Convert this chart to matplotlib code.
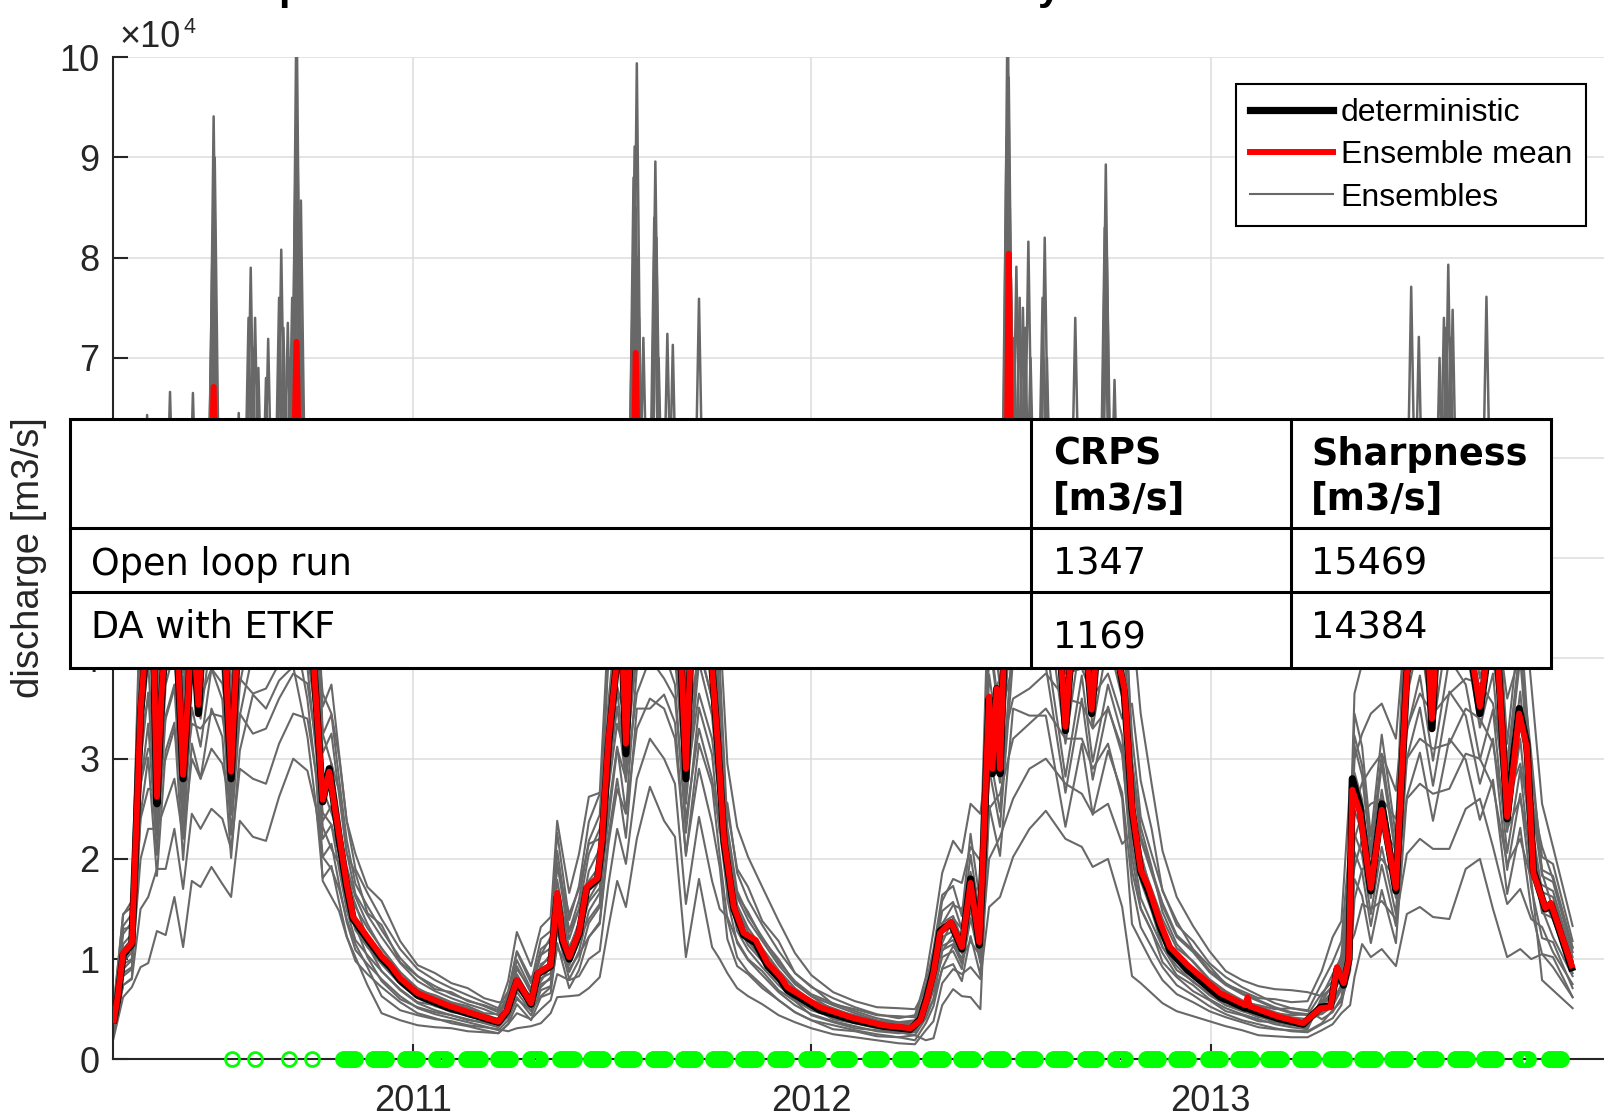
import numpy as np
import pandas as pd
import matplotlib
matplotlib.use('Agg')
import matplotlib.pyplot as plt
from matplotlib.lines import Line2D
from matplotlib.patches import Rectangle
from matplotlib.ticker import FuncFormatter

plt.rcParams['font.family'] = ['Liberation Sans', 'DejaVu Sans']

START = pd.Timestamp('2010-04-01')
END = pd.Timestamp('2014-01-01')
SCALE = 1e4  # all discharge values below are in 10^4 m3/s

# ---- deterministic run and ensemble mean (days since 2010-04-01) ----
day = [0, 4, 9, 17, 21, 25, 31, 36, 40, 44,
       49, 56, 64, 69, 72, 78, 83, 88, 92, 95,
       100, 108, 113, 120, 128, 140, 150, 160, 165, 168,
       171, 178, 184, 192, 198, 207, 214, 220, 233, 246,
       254, 263, 279, 306, 337, 353, 361, 370, 378, 383,
       389, 401, 404, 407, 412, 418, 427, 434, 444, 448,
       454, 461, 466, 470, 474, 476, 479, 482, 490, 500,
       510, 519, 525, 530, 540, 549, 554, 560, 569, 578,
       589, 600, 612, 618, 648, 679, 706, 731, 740, 746,
       752, 758, 768, 778, 786, 794, 798, 803, 806, 810,
       813, 818, 821, 824, 835, 850, 865, 873, 882, 890,
       897, 905, 915, 923, 927, 934, 942, 949, 960, 969,
       985, 1015, 1038, 1040, 1042, 1067, 1091, 1107, 1116, 1122,
       1128, 1133, 1136, 1143, 1153, 1163, 1176, 1186, 1195, 1203,
       1209, 1215, 1225, 1240, 1253, 1262, 1270, 1278, 1283, 1289,
       1296, 1302, 1313, 1318, 1338]

ens_mean = [0.36, 0.62, 1.06, 1.16, 2.30, 3.49, 4.30, 4.60, 2.62, 3.60,
            4.40, 4.80, 2.84, 3.70, 4.50, 3.54, 4.50, 5.00, 6.71, 5.20,
            4.60, 2.87, 4.00, 4.80, 5.20, 5.00, 5.40, 5.30, 5.60, 7.16,
            5.40, 4.60, 3.90, 2.59, 2.87, 2.24, 1.75, 1.42, 1.22, 1.03,
            0.94, 0.81, 0.66, 0.54, 0.43, 0.375, 0.49, 0.79, 0.65, 0.56,
            0.86, 0.94, 1.30, 1.66, 1.20, 1.02, 1.27, 1.72, 1.81, 2.19,
            3.19, 3.90, 4.30, 3.15, 4.10, 5.00, 7.05, 5.20, 5.00, 5.30,
            5.00, 4.40, 2.90, 4.20, 4.60, 3.90, 3.19, 2.19, 1.52, 1.26,
            1.19, 0.96, 0.82, 0.72, 0.52, 0.41, 0.34, 0.31, 0.39, 0.60,
            0.86, 1.26, 1.37, 1.12, 1.76, 1.17, 2.19, 3.62, 2.90, 3.70,
            2.90, 4.50, 8.04, 5.20, 4.80, 5.00, 4.60, 3.32, 4.60, 4.40,
            3.49, 4.50, 4.40, 3.90, 3.70, 2.52, 1.89, 1.72, 1.36, 1.12,
            0.94, 0.66, 0.54, 0.62, 0.53, 0.43, 0.36, 0.51, 0.52, 0.92,
            0.76, 1.00, 2.69, 2.46, 1.71, 2.49, 1.71, 3.85, 4.40, 4.60,
            3.40, 4.50, 4.80, 4.40, 3.52, 4.20, 3.90, 2.42, 2.85, 3.45,
            3.12, 1.86, 1.51, 1.56, 0.91]

deterministic = [0.36, 0.60, 1.04, 1.15, 2.28, 3.45, 4.25, 4.55, 2.55, 3.55,
                 4.40, 4.75, 2.80, 3.65, 4.50, 3.45, 4.45, 5.00, 5.00, 5.10,
                 4.55, 2.80, 3.95, 4.80, 5.20, 5.00, 5.40, 5.30, 5.50, 5.50,
                 5.30, 4.60, 3.90, 2.57, 2.90, 2.20, 1.72, 1.40, 1.20, 1.01,
                 0.92, 0.79, 0.64, 0.52, 0.42, 0.37, 0.48, 0.78, 0.64, 0.55,
                 0.85, 0.93, 1.28, 1.62, 1.18, 1.00, 1.25, 1.70, 1.80, 2.15,
                 3.15, 3.90, 4.30, 3.05, 4.10, 5.00, 5.20, 5.10, 5.00, 5.30,
                 5.00, 4.40, 2.80, 4.20, 4.60, 3.90, 3.17, 2.17, 1.50, 1.24,
                 1.16, 0.93, 0.79, 0.69, 0.49, 0.39, 0.33, 0.30, 0.40, 0.62,
                 0.88, 1.28, 1.36, 1.10, 1.80, 1.14, 2.15, 3.60, 2.85, 3.70,
                 2.85, 4.50, 5.30, 5.10, 4.80, 5.00, 4.60, 3.28, 4.60, 4.40,
                 3.45, 4.50, 4.40, 3.90, 3.65, 2.50, 1.87, 1.68, 1.32, 1.08,
                 0.89, 0.62, 0.51, 0.52, 0.50, 0.41, 0.35, 0.52, 0.53, 0.90,
                 0.74, 1.00, 2.80, 2.52, 1.68, 2.55, 1.68, 3.85, 4.40, 4.60,
                 3.30, 4.50, 4.80, 4.40, 3.45, 4.20, 3.90, 2.40, 2.95, 3.50,
                 3.15, 1.88, 1.50, 1.55, 0.88]

# ---- ensemble members ----
ens_day = [0, 9, 17, 25, 32, 40, 48, 56, 64, 72, 80, 90, 100, 108, 116, 128, 140, 152, 165, 178, 186,
           192, 200, 207, 214, 222, 233, 246, 263, 279, 295, 310, 325, 340, 353,
           362, 370, 383, 392, 401, 407, 418, 427, 436, 446,
           454, 462, 470, 480, 492, 505, 515, 525, 537, 549, 556,
           563, 572, 582, 595, 610, 625, 640, 660, 680, 700, 720, 735,
           745, 752, 760, 770, 778, 786, 795,
           803, 813, 825, 840, 855, 873, 888, 898, 912, 925,
           934, 942, 952, 962, 975, 990, 1005, 1020, 1035, 1050, 1065, 1080, 1095,
           1108, 1118, 1126, 1134,
           1138, 1145, 1153, 1163, 1176, 1186, 1198, 1210, 1225, 1240, 1253, 1265, 1278, 1290, 1300,
           1310, 1320, 1338]

member_1 = [.48, 1.45, 1.52, 4.6, 5.5, 4.9, 5.7, 5.9, 5.1, 5.9, 5.6, 6.0, 5.9, 4.8, 5.8, 6.0, 5.9, 6.1, 6.1, 5.8, 4.9,
            3.25, 2.95, 2.68, 2.05, 1.86, 1.46, 1.34, .97, .83, .70, .67, .58, .54, .49,
            .78, 1.27, .93, 1.32, 1.42, 2.38, 1.66, 2.05, 2.62, 2.66,
            3.02, 3.72, 3.38, 4.5, 4.6, 4.65, 4.3, 3.15, 4.1, 3.6, 2.93,
            2.50, 1.90, 1.72, 1.38, 1.18, .86, .73, .55, .50, .44, .43, .42,
            .82, 1.28, 1.86, 2.18, 2.06, 2.55, 2.45,
            3.2, 3.4, 3.95, 4.05, 4.2, 3.85, 3.9, 3.62, 3.85, 3.4,
            3.55, 2.78, 2.30, 1.68, 1.38, 1.10, .93, .75, .68, .61, .60, .57, .58,
            .88, 1.22, 1.38, 2.75,
            2.52, 2.76, 2.9, 3.05, 2.68, 3.85, 4.15, 3.9, 4.1, 4.3, 4.15, 4.0, 3.0, 3.4, 2.6,
            2.12, 1.80, 1.12]
member_2 = [.42, 1.30, 1.32, 3.9, 4.4, 4.1, 4.7, 4.85, 4.2, 5.0, 4.7, 5.1, 4.9, 4.2, 5.0, 5.2, 5.1, 5.3, 5.45, 5.2, 4.3,
            3.65, 3.45, 3.02, 2.38, 2.05, 1.72, 1.58, 1.18, .94, .86, .76, .71, .61, .57,
            .57, .90, .70, .92, 1.05, 1.60, 1.27, 1.50, 1.78, 1.93,
            4.15, 5.1, 4.7, 6.0, 6.05, 6.1, 5.9, 4.55, 5.7, 5.4, 4.35,
            2.95, 2.32, 2.02, 1.72, 1.38, 1.06, .84, .67, .58, .52, .51, .50,
            .70, 1.05, 1.58, 1.80, 1.76, 2.12, 1.98,
            4.9, 5.4, 6.0, 6.05, 6.0, 5.7, 5.9, 5.45, 5.9, 5.5,
            2.98, 2.32, 1.92, 1.47, 1.15, .97, .79, .67, .57, .54, .50, .51, .48,
            .76, .97, 1.18, 2.2,
            3.65, 3.95, 4.15, 4.35, 3.95, 5.4, 5.9, 5.7, 6.0, 5.9, 5.7, 5.7, 4.45, 4.95, 3.75,
            2.55, 2.12, 1.33]
member_3 = [.37, 1.10, 1.20, 3.2, 3.6, 3.5, 3.85, 4.2, 3.45, 4.3, 4.0, 4.4, 4.2, 3.6, 4.5, 4.4, 4.5, 4.7, 4.8, 4.75, 3.9,
            2.70, 2.46, 2.24, 1.74, 1.55, 1.20, 1.00, .76, .64, .56, .54, .47, .44, .40,
            .66, 1.08, .80, 1.04, 1.22, 1.92, 1.45, 1.70, 2.15, 2.20,
            3.5, 4.3, 4.0, 5.1, 5.3, 5.2, 5.1, 3.75, 4.75, 4.45, 3.5,
            2.12, 1.64, 1.47, 1.20, 1.00, .76, .63, .49, .44, .38, .37, .35,
            .48, .74, 1.16, 1.41, 1.30, 1.56, 1.40,
            4.1, 4.5, 5.1, 5.1, 5.25, 4.85, 5.0, 4.65, 4.95, 4.55,
            4.4, 3.45, 2.75, 2.08, 1.62, 1.33, 1.08, .88, .79, .73, .70, .69, .67,
            .63, .85, 1.02, 1.82,
            3.0, 3.25, 3.45, 3.55, 3.2, 4.5, 4.85, 4.75, 4.9, 5.0, 4.8, 4.7, 3.6, 4.05, 3.05,
            1.86, 1.50, .98]
member_4 = [.34, 1.00, 1.12, 2.75, 3.1, 3.0, 3.4, 3.7, 3.05, 3.8, 3.6, 3.9, 3.75, 3.15, 4.1, 4.0, 4.05, 4.3, 4.45, 4.4, 3.65,
            2.85, 2.72, 2.35, 1.92, 1.62, 1.35, 1.10, .87, .69, .64, .57, .53, .46, .45,
            .49, .70, .55, .72, .82, 1.30, 1.02, 1.20, 1.40, 1.55,
            2.7, 3.35, 3.0, 4.05, 4.3, 4.15, 4.0, 2.72, 3.65, 3.2, 2.58,
            1.84, 1.50, 1.27, 1.10, .88, .70, .55, .46, .38, .36, .31, .33,
            .58, .82, 1.35, 1.54, 1.50, 1.74, 1.68,
            3.55, 3.8, 4.4, 4.45, 4.6, 4.25, 4.4, 3.95, 4.3, 3.85,
            2.52, 2.06, 1.65, 1.30, 1.02, .87, .71, .61, .52, .47, .46, .44, .45,
            .51, .68, .80, 1.42,
            2.2, 2.45, 2.55, 2.6, 2.4, 3.3, 3.65, 3.45, 3.65, 3.8, 3.75, 3.55, 2.6, 2.95, 2.3,
            1.63, 1.39, .89]
member_5 = [.31, .95, 1.0, 2.4, 2.7, 2.68, 3.0, 3.3, 2.62, 3.35, 3.3, 3.45, 3.42, 2.85, 3.8, 3.65, 3.7, 3.95, 4.2, 4.05, 3.4,
            2.32, 2.10, 1.95, 1.52, 1.33, 1.02, .78, .60, .52, .47, .44, .39, .37, .34,
            .53, .76, .63, .78, .93, 1.48, 1.12, 1.33, 1.57, 1.71,
            2.38, 3.1, 2.8, 3.65, 4.0, 3.8, 3.6, 2.4, 3.3, 2.8, 2.3,
            1.65, 1.35, 1.14, .98, .81, .62, .52, .40, .36, .33, .28, .29,
            .44, .60, 1.08, 1.24, 1.20, 1.38, 1.22,
            2.85, 3.05, 3.6, 3.7, 3.85, 3.6, 3.55, 3.3, 3.5, 3.1,
            1.88, 1.50, 1.28, .97, .82, .68, .59, .48, .44, .38, .37, .35, .34,
            .58, .74, .92, 1.57,
            1.92, 2.2, 2.25, 2.3, 2.1, 3.0, 3.2, 3.1, 3.15, 3.5, 3.4, 3.15, 2.3, 2.6, 2.05,
            1.50, 1.22, .83]
member_6 = [.28, .86, .92, 2.0, 2.3, 2.3, 2.55, 2.8, 2.2, 3.0, 2.8, 3.1, 2.95, 2.5, 3.45, 3.25, 3.3, 3.6, 3.85, 3.75, 3.15,
            2.46, 2.34, 2.05, 1.68, 1.40, 1.14, .88, .70, .57, .54, .47, .45, .40, .37,
            .42, .60, .49, .63, .72, 1.12, .90, 1.05, 1.22, 1.35,
            2.15, 2.7, 2.45, 3.3, 3.6, 3.5, 3.2, 2.05, 2.9, 2.35, 1.92,
            1.20, .93, .85, .71, .59, .47, .39, .30, .28, .23, .22, .19,
            .36, .53, .91, 1.13, 1.01, 1.18, 1.03,
            2.0, 2.22, 2.6, 2.9, 3.0, 2.75, 2.65, 2.45, 2.55, 2.15,
            2.25, 1.78, 1.48, 1.12, .93, .77, .66, .54, .49, .42, .41, .40, .38,
            .46, .58, .73, 1.15,
            1.25, 1.55, 1.5, 1.58, 1.4, 2.05, 2.2, 2.1, 2.1, 2.5, 2.6, 2.12, 1.55, 1.7, 1.4,
            1.32, 1.07, .75]
member_7 = [.25, .74, .80, 1.5, 1.62, 1.9, 1.9, 2.3, 1.7, 2.45, 2.3, 2.5, 2.4, 2.1, 2.9, 2.8, 2.75, 3.15, 3.45, 3.4, 2.85,
            1.78, 1.62, 1.48, 1.22, 1.02, .74, .46, .39, .34, .32, .31, .28, .27, .26,
            .35, .46, .40, .50, .59, .85, .79, .83, 1.0, 1.08,
            1.75, 2.3, 1.95, 2.8, 3.2, 3.0, 2.75, 1.55, 2.42, 1.78, 1.5,
            1.42, 1.18, 1.00, .88, .69, .58, .44, .37, .31, .29, .27, .24,
            .19, .21, .54, .70, .63, .62, .50,
            2.5, 2.65, 3.2, 3.35, 3.5, 3.2, 3.2, 2.9, 3.15, 2.6,
            1.35, 1.18, .97, .79, .65, .57, .48, .42, .37, .32, .30, .29, .28,
            .36, .49, .58, .88,
            1.6, 1.9, 1.92, 2.0, 1.8, 2.6, 2.75, 2.65, 2.7, 3.05, 3.0, 2.72, 1.95, 2.2, 1.8,
            .79, .69, .51]
member_8 = [.20, .62, .72, .92, .96, 1.28, 1.24, 1.62, 1.12, 1.78, 1.72, 1.92, 1.75, 1.62, 2.38, 2.22, 2.18, 2.62, 3.0, 2.88, 2.5,
            2.02, 1.90, 1.70, 1.40, 1.15, .92, .63, .49, .44, .40, .38, .34, .32, .30,
            .28, .31, .33, .36, .46, .62, .63, .64, .71, .82,
            1.32, 1.78, 1.52, 2.2, 2.72, 2.38, 2.22, 1.02, 1.8, 1.12, 1.0,
            .86, .71, .63, .55, .44, .37, .31, .25, .22, .19, .16, .15,
            .29, .38, .76, .90, .85, .92, .80,
            1.52, 1.62, 2.02, 2.3, 2.48, 2.2, 2.12, 1.92, 2.0, 1.52,
            .83, .76, .66, .56, .48, .43, .38, .33, .29, .24, .23, .22, .22,
            .29, .35, .46, .54,
            .82, 1.15, 1.02, 1.1, .93, 1.45, 1.52, 1.42, 1.4, 1.9, 2.0, 1.5, 1.02, 1.1, 1.0,
            1.05, .92, .62]
member_9 = [.39, 1.15, 1.25, 3.75, 4.6, 2.85, 4.7, 5.1, 3.05, 4.8, 4.3, 5.3, 4.9, 3.1, 4.7, 5.5, 5.3, 5.7, 5.9, 4.9, 3.9,
            2.78, 2.95, 2.42, 1.88, 1.52, 1.31, 1.11, .87, .71, .62, .56, .51, .45, .40,
            .54, .85, .60, .95, 1.01, 1.79, 1.10, 1.37, 1.88, 2.10,
            3.45, 4.3, 3.4, 5.4, 5.4, 5.6, 5.2, 3.13, 4.85, 4.2, 3.13,
            1.90, 1.38, 1.18, 1.00, .80, .64, .53, .46, .39, .33, .30, .32,
            .55, .82, 1.22, 1.28, 1.06, 1.67, 1.14,
            3.44, 2.76, 4.75, 4.65, 4.65, 3.15, 4.28, 3.32, 4.18, 3.61,
            2.39, 1.80, 1.52, 1.25, 1.00, .87, .71, .61, .53, .48, .42, .38, .36,
            .55, .65, .86, 1.62,
            2.86, 2.59, 1.85, 2.69, 1.85, 4.16, 4.86, 3.78, 5.08, 4.75, 3.80, 4.43, 2.61, 3.67, 2.38,
            1.67, 1.62, .98]
member_10 = [.33, .97, 1.07, 3.21, 3.96, 2.41, 4.05, 4.42, 2.61, 4.14, 3.68, 4.6, 4.23, 2.64, 4.05, 4.78, 4.6, 4.97, 5.15, 4.23, 3.31,
             2.38, 2.53, 2.06, 1.61, 1.29, 1.12, .95, .75, .61, .53, .48, .43, .39, .345,
             .46, .73, .52, .81, .86, 1.53, .94, 1.17, 1.60, 1.79,
             2.93, 3.68, 2.90, 4.6, 4.6, 4.78, 4.42, 2.67, 4.14, 3.59, 2.67,
             2.12, 1.54, 1.31, 1.11, .89, .71, .59, .51, .43, .37, .34, .36,
             .61, .91, 1.36, 1.43, 1.19, 1.87, 1.27,
             3.84, 3.07, 5.3, 5.19, 5.19, 3.52, 4.77, 3.70, 4.66, 4.03,
             2.67, 2.0, 1.70, 1.40, 1.11, .98, .80, .68, .59, .53, .47, .42, .40,
             .48, .56, .75, 1.41,
             2.49, 2.26, 1.61, 2.34, 1.61, 3.62, 4.23, 3.29, 4.42, 4.14, 3.31, 3.85, 2.27, 3.20, 2.07,
             1.46, 1.41, .86]
member_11 = [.42, 1.25, 1.37, 4.1, 5.1, 3.09, 5.2, 5.66, 3.35, 5.3, 4.72, 5.9, 5.43, 3.39, 5.2, 6.1, 5.9, 6.1, 6.2, 5.43, 4.25,
             3.06, 3.25, 2.64, 2.07, 1.65, 1.44, 1.22, .96, .78, .68, .61, .55, .50, .44,
             .59, .93, .66, 1.04, 1.11, 1.96, 1.20, 1.50, 2.05, 2.30,
             2.81, 3.52, 2.77, 4.4, 4.4, 4.58, 4.22, 2.55, 3.96, 3.43, 2.55,
             1.76, 1.28, 1.09, .92, .74, .59, .49, .42, .36, .31, .28, .30,
             .51, .76, 1.13, 1.19, .99, 1.55, 1.06,
             4.27, 3.42, 5.9, 5.78, 5.78, 3.92, 5.31, 4.12, 5.19, 4.48,
             2.97, 2.23, 1.89, 1.56, 1.24, 1.09, .89, .76, .66, .59, .52, .47, .45,
             .45, .53, .70, 1.32,
             3.13, 2.83, 2.02, 2.94, 2.02, 4.54, 5.3, 4.13, 5.5, 5.2, 4.15, 4.84, 2.86, 4.0, 2.6,
             1.83, 1.77, 1.07]
member_12 = [.31, .90, .99, 2.97, 3.66, 2.23, 3.74, 4.08, 2.41, 3.83, 3.4, 4.25, 3.91, 2.44, 3.74, 4.42, 4.25, 4.59, 4.76, 3.91, 3.06,
             2.2, 2.34, 1.90, 1.49, 1.19, 1.04, .88, .69, .56, .49, .44, .40, .36, .32,
             .43, .67, .48, .75, .80, 1.41, .87, 1.08, 1.48, 1.66,
             3.57, 4.48, 3.53, 5.6, 5.6, 5.8, 5.4, 3.25, 5.04, 4.37, 3.25,
             2.24, 1.62, 1.39, 1.18, .94, .75, .63, .54, .46, .39, .36, .38,
             .49, .73, 1.09, 1.15, .95, 1.50, 1.02,
             3.08, 2.47, 4.25, 4.17, 4.17, 2.82, 3.83, 2.97, 3.74, 3.23,
             2.14, 1.61, 1.36, 1.12, .89, .78, .64, .54, .48, .43, .37, .34, .32,
             .57, .67, .90, 1.68,
             2.25, 2.04, 1.45, 2.12, 1.45, 3.27, 3.83, 2.98, 4.0, 3.74, 2.99, 3.49, 2.06, 2.89, 1.87,
             1.74, 1.68, 1.02]
member_13 = [.28, .83, .90, 2.72, 3.35, 2.04, 3.43, 3.74, 2.22, 3.51, 3.12, 3.9, 3.59, 2.24, 3.43, 4.06, 3.9, 4.21, 4.37, 3.59, 2.81,
             2.02, 2.15, 1.75, 1.37, 1.09, .95, .80, .63, .51, .45, .41, .37, .33, .29,
             .39, .62, .44, .69, .73, 1.29, .80, .99, 1.36, 1.52,
             2.49, 3.12, 2.46, 3.9, 3.9, 4.06, 3.74, 2.26, 3.51, 3.04, 2.26,
             2.56, 1.86, 1.59, 1.34, 1.08, .86, .72, .61, .52, .45, .41, .44,
             .74, 1.10, 1.64, 1.73, 1.43, 2.25, 1.54,
             4.63, 3.71, 6.1, 6.1, 6.1, 4.25, 5.76, 4.47, 5.63, 4.86,
             3.23, 2.42, 2.05, 1.69, 1.34, 1.18, .96, .82, .72, .64, .56, .51, .49,
             .40, .47, .62, 1.17,
             2.07, 1.87, 1.33, 1.94, 1.33, 3.0, 3.51, 2.73, 3.67, 3.43, 2.75, 3.2, 1.89, 2.65, 1.72,
             1.21, 1.17, .71]
member_14 = [.45, 1.33, 1.45, 4.36, 5.38, 3.28, 5.5, 6.0, 3.55, 5.63, 5.0, 6.1, 5.75, 3.59, 5.5, 6.1, 6.1, 6.1, 6.2, 5.75, 4.5,
             3.24, 3.44, 2.8, 2.19, 1.75, 1.53, 1.29, 1.01, .83, .73, .65, .59, .53, .47,
             .63, .99, .70, 1.1, 1.18, 2.08, 1.28, 1.59, 2.18, 2.44,
             3.99, 5.0, 3.94, 6.1, 6.1, 6.2, 6.0, 3.63, 5.63, 4.88, 3.63,
             1.6, 1.16, .99, .84, .67, .54, .45, .38, .33, .28, .26, .27,
             .46, .69, 1.02, 1.08, .90, 1.41, .96,
             2.9, 2.32, 4.0, 3.92, 3.92, 2.66, 3.6, 2.79, 3.52, 3.04,
             2.02, 1.51, 1.28, 1.06, .84, .74, .60, .51, .45, .40, .35, .32, .30,
             .62, .73, .98, 1.83,
             3.23, 2.93, 2.09, 3.04, 2.09, 4.7, 5.49, 4.27, 5.73, 5.37, 4.29, 5.0, 2.95, 4.15, 2.68,
             1.89, 1.83, 1.11]
member_15 = [.25, .74, .81, 2.44, 3.01, 1.83, 3.08, 3.36, 1.99, 3.15, 2.8, 3.5, 3.22, 2.01, 3.08, 3.64, 3.5, 3.78, 3.92, 3.22, 2.52,
             1.81, 1.93, 1.57, 1.23, .98, .85, .72, .57, .46, .41, .36, .33, .29, .26,
             .35, .55, .39, .62, .66, 1.16, .71, .89, 1.22, 1.37,
             2.23, 2.8, 2.21, 3.5, 3.5, 3.64, 3.36, 2.03, 3.15, 2.73, 2.03,
             1.4, 1.02, .87, .74, .59, .47, .39, .34, .29, .25, .22, .24,
             .41, .60, .90, .95, .78, 1.23, .84,
             2.53, 2.03, 3.5, 3.43, 3.43, 2.32, 3.15, 2.44, 3.08, 2.66,
             1.76, 1.32, 1.12, .92, .74, .64, .53, .45, .39, .35, .31, .28, .27,
             .35, .41, .54, 1.02,
             1.8, 1.63, 1.16, 1.69, 1.16, 2.62, 3.06, 2.38, 3.2, 2.99, 2.39, 2.79, 1.65, 2.31, 1.5,
             1.05, 1.02, .62]
member_16 = [.49, 1.44, 1.58, 4.75, 5.85, 3.56, 5.98, 6.1, 3.86, 6.1, 5.44, 6.1, 6.1, 3.9, 5.98, 6.1, 6.1, 6.1, 6.2, 6.1, 4.9,
             3.52, 3.74, 3.05, 2.38, 1.9, 1.66, 1.4, 1.1, .90, .79, .71, .64, .57, .51,
             .68, 1.07, .76, 1.2, 1.28, 2.26, 1.39, 1.73, 2.37, 2.65,
             4.34, 5.44, 4.28, 6.1, 6.1, 6.2, 6.1, 3.94, 6.1, 5.3, 3.94,
             2.32, 1.68, 1.44, 1.22, .97, .78, .65, .56, .48, .41, .37, .39,
             .67, 1.0, 1.48, 1.57, 1.3, 2.04, 1.39,
             4.2, 3.36, 5.8, 5.68, 5.68, 3.85, 5.22, 4.05, 5.1, 4.41,
             2.92, 2.19, 1.86, 1.53, 1.22, 1.07, .87, .74, .65, .58, .51, .46, .44,
             .66, .78, 1.04, 1.95,
             3.45, 3.12, 2.22, 3.24, 2.22, 5.0, 5.85, 4.55, 6.1, 5.72, 4.58, 5.33, 3.15, 4.42, 2.86,
             2.02, 1.95, 1.18]
members = [member_1, member_2, member_3, member_4, member_5, member_6, member_7, member_8,
           member_9, member_10, member_11, member_12, member_13, member_14, member_15, member_16]

# short flood peaks of single members
spike_day = [31, 52, 73, 90, 91, 92, 92, 93, 93, 115,
             124, 126, 128, 130, 133, 140, 142, 152, 154, 156,
             160, 162, 164, 166, 167, 168, 168, 169, 170, 171,
             172, 476, 477, 478, 479, 480, 481, 482, 486, 496,
             497, 498, 500, 508, 513, 537, 819, 820, 821, 822,
             823, 826, 828, 831, 834, 836, 839, 841, 852, 854,
             856, 882, 909, 910, 911, 918, 1190, 1197, 1216, 1220,
             1222, 1224, 1226, 1228, 1259]
spike_peak = [6.43, 6.66, 6.65, 7.20, 8.20, 9.41, 8.60, 7.90, 9.00, 6.45,
              7.40, 7.90, 7.10, 7.40, 6.90, 6.80, 7.19, 7.60, 8.08, 7.30,
              7.35, 7.00, 7.60, 7.50, 8.90, 10.6, 9.60, 9.00, 8.00, 7.80,
              8.57, 7.50, 8.80, 9.11, 8.50, 9.94, 8.00, 7.40, 7.20, 8.40,
              8.96, 8.20, 7.00, 7.24, 7.13, 7.59, 9.20, 10.6, 9.80, 8.50,
              7.80, 7.20, 7.91, 7.60, 7.50, 7.30, 8.16, 7.00, 7.60, 8.20,
              7.00, 7.40, 8.30, 8.93, 8.00, 6.78, 7.71, 7.21, 7.00, 7.40,
              7.30, 7.93, 7.20, 7.48, 7.61]
spike_base = 4.6

# assimilated observations: single days and daily windows
obs_single = [109, 130, 161, 182]
obs_start = [211, 238, 267, 296, 323, 353, 382, 410, 438, 466, 495, 522, 550, 577, 607, 635, 664, 694,
             721, 749, 777, 805, 834, 862, 891, 918, 947, 974, 1004, 1031, 1059, 1088, 1116, 1145,
             1172, 1202, 1230, 1257, 1290, 1316]
obs_end = [222, 250, 278, 305, 336, 364, 391, 422, 449, 477, 506, 533, 561, 589, 617, 646, 675, 704,
           731, 761, 788, 816, 845, 873, 901, 928, 958, 985, 1015, 1043, 1071, 1100, 1128, 1157,
           1184, 1213, 1241, 1268, 1297, 1327]

# skill scores for the table
table_rows = ['Open loop run', 'DA with ETKF']
crps = [1347, 1169]
sharpness = [15469, 14384]


def to_dates(days):
    return START + pd.to_timedelta(np.asarray(days, dtype=float), unit='D')


W, H = 1604, 1117
fig = plt.figure(figsize=(W / 100, H / 100), dpi=100)


def fx(px):
    return px / W


def fy(py):
    return 1 - py / H


ax = fig.add_axes([fx(113.3), fy(1059.3), 1495.3 / W, 1002.0 / H])

GRAY = '#686868'
ENS_LW = 1.5
ens_t = to_dates(ens_day)
for m in members:
    ax.plot(ens_t, np.array(m) * SCALE, color=GRAY, lw=ENS_LW, zorder=2)
for d, p in zip(spike_day, spike_peak):
    ax.plot(to_dates([d - 5, d, d + 5]), np.array([spike_base, p, spike_base]) * SCALE,
            color=GRAY, lw=ENS_LW + 0.3, zorder=2)

t = to_dates(day)
ax.plot(t, np.array(deterministic) * SCALE, color='black', lw=5.2, zorder=3,
        solid_capstyle='butt')
ax.plot(t, np.array(ens_mean) * SCALE, color='#ff0000', lw=4.3, zorder=4,
        solid_capstyle='butt')

obs_days = np.concatenate([np.array(obs_single, dtype=float)] +
                          [np.arange(a, b + 1) for a, b in zip(obs_start, obs_end)])
ax.plot(to_dates(obs_days), np.zeros(len(obs_days)), 'o', mfc='none', mec=(0, 1, 0),
        ms=10, mew=2, clip_on=False, zorder=6)

# axes styling
ax.set_xlim(START, END)
ax.set_ylim(0, 10 * SCALE)
ax.set_yticks(np.arange(0, 11) * SCALE)
ax.yaxis.set_major_formatter(FuncFormatter(lambda v, _: f'{v / SCALE:g}'))
years = ['2011', '2012', '2013']
ax.set_xticks(pd.to_datetime([y + '-01-01' for y in years]))
ax.set_xticklabels(years)
for s in ['top', 'right']:
    ax.spines[s].set_visible(False)
for s in ['left', 'bottom']:
    ax.spines[s].set_linewidth(1.5)
    ax.spines[s].set_color('#262626')
ax.grid(True, color='#dcdcdc', lw=1.1)
ax.set_axisbelow(True)
ax.tick_params(direction='in', length=11, width=1.5, colors='#262626', labelsize=26)
ax.tick_params(axis='x', pad=18)
ax.tick_params(axis='y', pad=10)

fig.text(fx(119), fy(47), '\u00d710', fontsize=26, color='#262626', va='baseline')
fig.text(fx(183), fy(33), '4', fontsize=15.5, color='#262626', va='baseline')
fig.text(fx(29), fy(558), 'discharge [m3/s]', fontsize=27.5, color='#262626',
         rotation=90, ha='center', va='center')

# title descenders peeking in at the top edge
fig.text(fx(291), fy(-1), 'p', fontsize=30, fontweight='bold', va='baseline', ha='center')
fig.text(fx(1049), fy(-1), 'y', fontsize=30, fontweight='bold', va='baseline', ha='center')

handles = [Line2D([], [], color='black', lw=5.2),
           Line2D([], [], color='#ff0000', lw=4.3),
           Line2D([], [], color=GRAY, lw=ENS_LW)]
leg = ax.legend(handles, ['deterministic', 'Ensemble mean', 'Ensembles'],
                loc='upper left', bbox_to_anchor=(fx(1236), fy(84)),
                bbox_transform=fig.transFigure, fontsize=23, frameon=True,
                fancybox=False, edgecolor='black', framealpha=1, borderpad=0.43,
                borderaxespad=0, handlelength=2.6, handletextpad=0.25, labelspacing=0.39)
leg.get_frame().set_linewidth(1.5)
leg.set_zorder(8)

# score table overlay (pixel coordinates, y downward)
x0, x1, y0, y1 = 69.6, 1550.5, 419.3, 668.0
tab = fig.add_axes([fx(x0), fy(y1), (x1 - x0) / W, (y1 - y0) / H])
tab.set_zorder(10)
tab.set_xlim(x0, x1)
tab.set_ylim(y1, y0)
tab.axis('off')
tab.add_patch(Rectangle((x0, y0), x1 - x0, y1 - y0, facecolor='white',
                        edgecolor='black', lw=2.2, clip_on=False))
for yy in (527.7, 591.7):
    tab.plot([x0, x1], [yy, yy], color='black', lw=2.2, clip_on=False)
for xx in (1031, 1291):
    tab.plot([xx, xx], [y0, y1], color='black', lw=2.2, clip_on=False)

tfont = dict(family='DejaVu Sans', fontsize=26.4, color='black', va='baseline')
tab.text(1053, 465, 'CRPS', fontweight='bold', **tfont)
tab.text(1053, 510, '[m3/s]', fontweight='bold', **tfont)
tab.text(1311, 465, 'Sharpness', fontweight='bold', **tfont)
tab.text(1311, 510, '[m3/s]', fontweight='bold', **tfont)
tab.text(90.6, 575, table_rows[0], **tfont)
tab.text(90.6, 638.3, table_rows[1], **tfont)
tab.text(1053, 575, str(crps[0]), **tfont)
tab.text(1053, 648.3, str(crps[1]), **tfont)
tab.text(1311, 575, str(sharpness[0]), **tfont)
tab.text(1311, 638.3, str(sharpness[1]), **tfont)

fig.savefig('out.png', dpi=100)
